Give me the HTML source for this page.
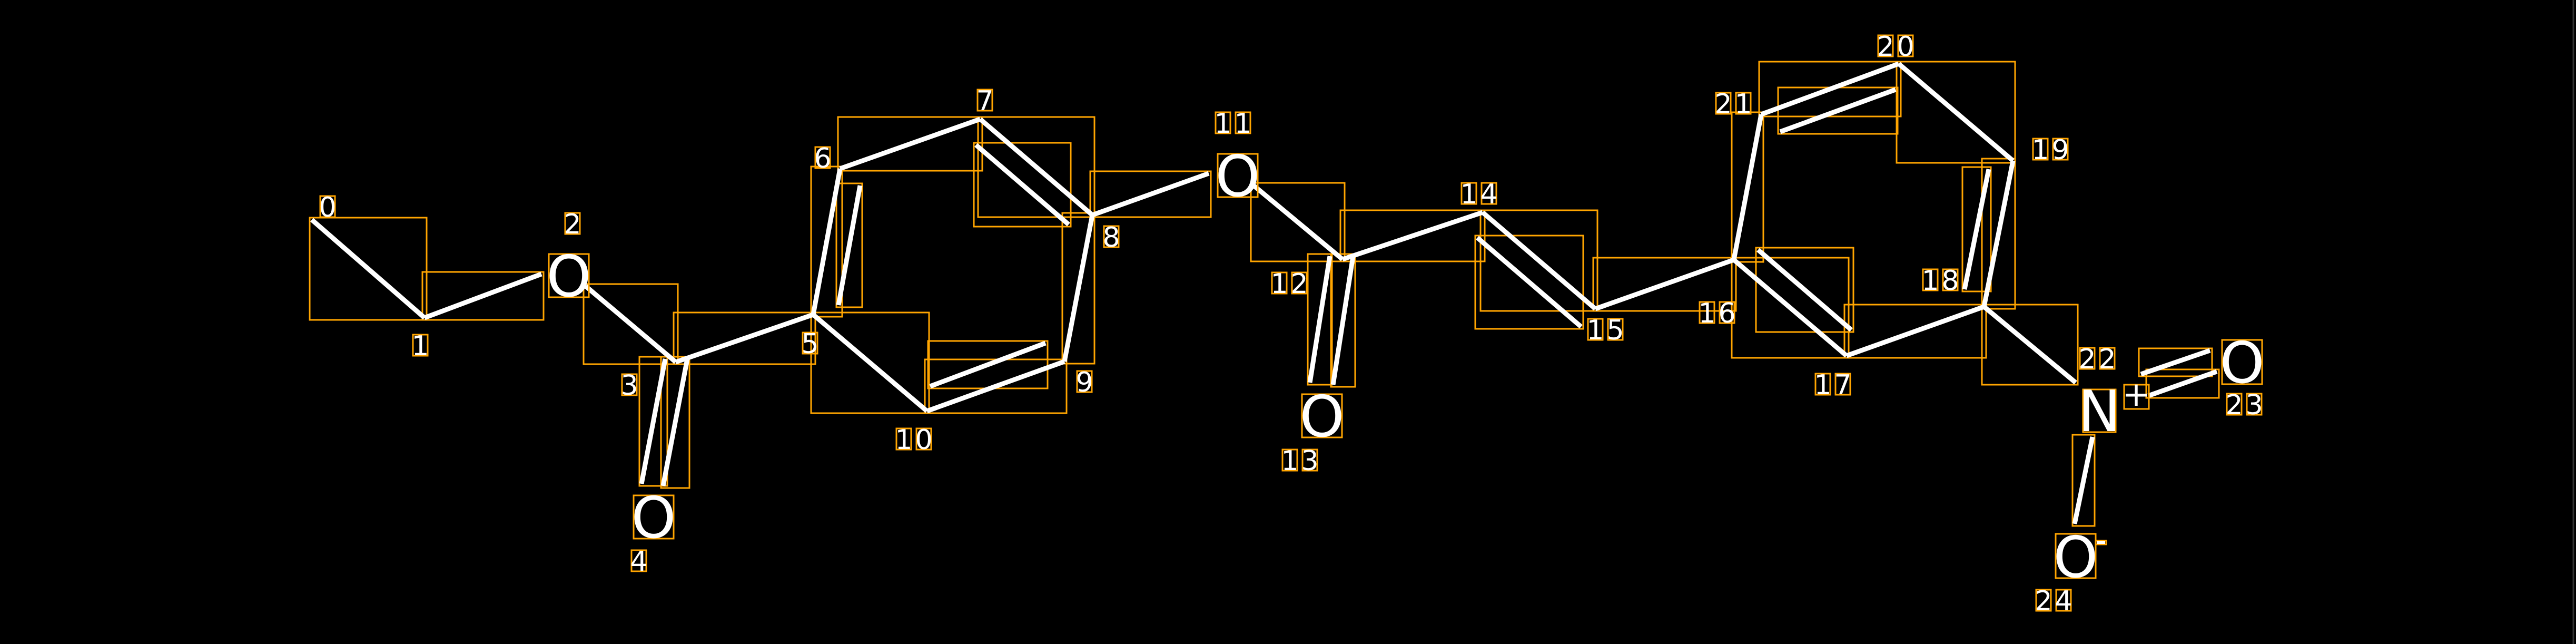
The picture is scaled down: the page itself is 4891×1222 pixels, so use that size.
<!DOCTYPE html>
<html><head><meta charset="utf-8"><style>
html,body{margin:0;padding:0;background:#000;}
svg{display:block}
text{font-family:"DejaVu Sans","Liberation Sans",sans-serif;fill:#fff}
.d{font-size:52px;text-anchor:middle}
.a{font-size:108px;text-anchor:middle}
.b{stroke:#fff;stroke-width:9;stroke-linecap:butt}
.r{fill:none;stroke:#FFA500;stroke-width:3}
</style></head><body>
<svg width="4891" height="1222" viewBox="0 0 4891 1222" xmlns="http://www.w3.org/2000/svg">
<rect x="0" y="0" width="4891" height="1222" fill="#000"/>
<line x1="4886" y1="0" x2="4886" y2="1222" stroke="#333" stroke-width="3"/>
<g class="r">
<rect x="588" y="413" width="222" height="194"/>
<rect x="802" y="516" width="230" height="91"/>
<rect x="1108" y="539" width="179" height="152"/>
<rect x="1279" y="593" width="269" height="98"/>
<rect x="1214" y="677" width="53" height="245"/>
<rect x="1255" y="677" width="54" height="249"/>
<rect x="1540" y="316" width="59" height="285"/>
<rect x="1588" y="348" width="49" height="235"/>
<rect x="1591" y="222" width="274" height="102"/>
<rect x="1857" y="222" width="221" height="190"/>
<rect x="1849" y="271" width="184" height="159"/>
<rect x="2017" y="404" width="61" height="286"/>
<rect x="1756" y="682" width="269" height="102"/>
<rect x="1762" y="647" width="227" height="90"/>
<rect x="1540" y="593" width="224" height="191"/>
<rect x="2070" y="325" width="229" height="87"/>
<rect x="2375" y="347" width="178" height="149"/>
<rect x="2483" y="482" width="46" height="248"/>
<rect x="2527" y="482" width="46" height="252"/>
<rect x="2545" y="399" width="274" height="97"/>
<rect x="2811" y="399" width="222" height="191"/>
<rect x="2801" y="447" width="205" height="177"/>
<rect x="3025" y="489" width="271" height="101"/>
<rect x="3288" y="489" width="222" height="190"/>
<rect x="3334" y="470" width="185" height="160"/>
<rect x="3502" y="578" width="269" height="101"/>
<rect x="3763" y="301" width="63" height="285"/>
<rect x="3726" y="317" width="54" height="236"/>
<rect x="3601" y="117" width="225" height="192"/>
<rect x="3340" y="117" width="269" height="104"/>
<rect x="3376" y="166" width="227" height="88"/>
<rect x="3288" y="213" width="60" height="284"/>
<rect x="3763" y="578" width="182" height="152"/>
<rect x="4061" y="661" width="139" height="53"/>
<rect x="4075" y="701" width="138" height="54"/>
<rect x="3935" y="825" width="42" height="173"/>
</g>
<g class="b">
<line x1="592" y1="417" x2="806" y2="603"/>
<line x1="806" y1="603" x2="1028" y2="520"/>
<line x1="1112" y1="543" x2="1283" y2="687"/>
<line x1="1283" y1="687" x2="1544" y2="597"/>
<line x1="1263" y1="681" x2="1218" y2="918"/>
<line x1="1305" y1="681" x2="1259" y2="922"/>
<line x1="1544" y1="597" x2="1595" y2="320"/>
<line x1="1633" y1="352" x2="1592" y2="579"/>
<line x1="1595" y1="320" x2="1861" y2="226"/>
<line x1="1861" y1="226" x2="2074" y2="408"/>
<line x1="1853" y1="275" x2="2029" y2="426"/>
<line x1="2074" y1="408" x2="2021" y2="686"/>
<line x1="2021" y1="686" x2="1760" y2="780"/>
<line x1="1985" y1="651" x2="1766" y2="733"/>
<line x1="1760" y1="780" x2="1544" y2="597"/>
<line x1="2074" y1="408" x2="2295" y2="329"/>
<line x1="2379" y1="351" x2="2549" y2="492"/>
<line x1="2525" y1="486" x2="2487" y2="726"/>
<line x1="2569" y1="486" x2="2531" y2="730"/>
<line x1="2549" y1="492" x2="2815" y2="403"/>
<line x1="2815" y1="403" x2="3029" y2="586"/>
<line x1="2805" y1="451" x2="3002" y2="620"/>
<line x1="3029" y1="586" x2="3292" y2="493"/>
<line x1="3292" y1="493" x2="3506" y2="675"/>
<line x1="3338" y1="474" x2="3515" y2="626"/>
<line x1="3506" y1="675" x2="3767" y2="582"/>
<line x1="3767" y1="582" x2="3822" y2="305"/>
<line x1="3776" y1="321" x2="3730" y2="549"/>
<line x1="3822" y1="305" x2="3605" y2="121"/>
<line x1="3605" y1="121" x2="3344" y2="217"/>
<line x1="3380" y1="250" x2="3599" y2="170"/>
<line x1="3344" y1="217" x2="3292" y2="493"/>
<line x1="3767" y1="582" x2="3941" y2="726"/>
<line x1="4065" y1="710" x2="4196" y2="665"/>
<line x1="4079" y1="751" x2="4209" y2="705"/>
<line x1="3973" y1="829" x2="3939" y2="994"/>
</g>
<g class="r">
<rect x="1042" y="482" width="76" height="82"/>
<rect x="1203" y="940" width="76" height="82"/>
<rect x="2312" y="292" width="76" height="82"/>
<rect x="2472" y="748" width="76" height="82"/>
<rect x="3955" y="739" width="62" height="81"/>
<rect x="4033" y="730" width="47" height="46"/>
<rect x="4219" y="645" width="76" height="84"/>
<rect x="3903" y="1013" width="76" height="84"/>
<rect x="3979" y="1026" width="20" height="7"/>
</g>
<text class="a" x="1080" y="562">O</text>
<text class="a" x="1241" y="1020">O</text>
<text class="a" x="2350" y="372">O</text>
<text class="a" x="2510" y="828">O</text>
<text class="a" x="3986" y="818">N</text>
<text x="4056" y="770" style="font-size:64px;text-anchor:middle">+</text>
<text class="a" x="4257" y="726">O</text>
<text class="a" x="3941" y="1095">O</text>
<rect x="3981" y="1027" width="16" height="5" fill="#fff"/>
<text x="3989" y="1032" style="font-size:1px;text-anchor:middle">-</text>
<g class="r">
<rect x="608" y="372" width="28" height="40"/>
<rect x="1073" y="404" width="28" height="40"/>
<rect x="784" y="635" width="28" height="40"/>
<rect x="1181" y="710" width="28" height="40"/>
<rect x="1199" y="1044" width="28" height="40"/>
<rect x="1524" y="631" width="28" height="40"/>
<rect x="1548" y="279" width="28" height="40"/>
<rect x="1856" y="170" width="28" height="40"/>
<rect x="2096" y="429" width="28" height="40"/>
<rect x="2045" y="704" width="28" height="40"/>
<rect x="1702" y="813" width="28" height="40"/>
<rect x="1740" y="813" width="28" height="40"/>
<rect x="2308" y="213" width="28" height="40"/>
<rect x="2346" y="213" width="28" height="40"/>
<rect x="2415" y="517" width="28" height="40"/>
<rect x="2453" y="517" width="28" height="40"/>
<rect x="2435" y="853" width="28" height="40"/>
<rect x="2473" y="853" width="28" height="40"/>
<rect x="2775" y="347" width="28" height="40"/>
<rect x="2813" y="347" width="28" height="40"/>
<rect x="3015" y="605" width="28" height="40"/>
<rect x="3053" y="605" width="28" height="40"/>
<rect x="3227" y="573" width="28" height="40"/>
<rect x="3265" y="573" width="28" height="40"/>
<rect x="3447" y="709" width="28" height="40"/>
<rect x="3485" y="709" width="28" height="40"/>
<rect x="3651" y="511" width="28" height="40"/>
<rect x="3689" y="511" width="28" height="40"/>
<rect x="3860" y="263" width="28" height="40"/>
<rect x="3898" y="263" width="28" height="40"/>
<rect x="3566" y="67" width="28" height="40"/>
<rect x="3604" y="67" width="28" height="40"/>
<rect x="3258" y="176" width="28" height="40"/>
<rect x="3296" y="176" width="28" height="40"/>
<rect x="3949" y="660" width="28" height="40"/>
<rect x="3987" y="660" width="28" height="40"/>
<rect x="4228" y="747" width="28" height="40"/>
<rect x="4266" y="747" width="28" height="40"/>
<rect x="3866" y="1119" width="28" height="40"/>
<rect x="3904" y="1119" width="28" height="40"/>
</g>
<g class="d">
<text x="622" y="411">0</text>
<text x="1087" y="443">2</text>
<text x="798" y="674">1</text>
<text x="1195" y="749">3</text>
<text x="1213" y="1083">4</text>
<text x="1538" y="670">5</text>
<text x="1562" y="318">6</text>
<text x="1870" y="209">7</text>
<text x="2110" y="468">8</text>
<text x="2059" y="743">9</text>
<text x="1716" y="852">1</text><text x="1754" y="852">0</text>
<text x="2322" y="252">1</text><text x="2360" y="252">1</text>
<text x="2429" y="556">1</text><text x="2467" y="556">2</text>
<text x="2449" y="892">1</text><text x="2487" y="892">3</text>
<text x="2789" y="386">1</text><text x="2827" y="386">4</text>
<text x="3029" y="644">1</text><text x="3067" y="644">5</text>
<text x="3241" y="612">1</text><text x="3279" y="612">6</text>
<text x="3461" y="748">1</text><text x="3499" y="748">7</text>
<text x="3665" y="550">1</text><text x="3703" y="550">8</text>
<text x="3874" y="302">1</text><text x="3912" y="302">9</text>
<text x="3580" y="106">2</text><text x="3618" y="106">0</text>
<text x="3272" y="215">2</text><text x="3310" y="215">1</text>
<text x="3963" y="699">2</text><text x="4001" y="699">2</text>
<text x="4242" y="786">2</text><text x="4280" y="786">3</text>
<text x="3880" y="1158">2</text><text x="3918" y="1158">4</text>
</g>
</svg>
</body></html>
